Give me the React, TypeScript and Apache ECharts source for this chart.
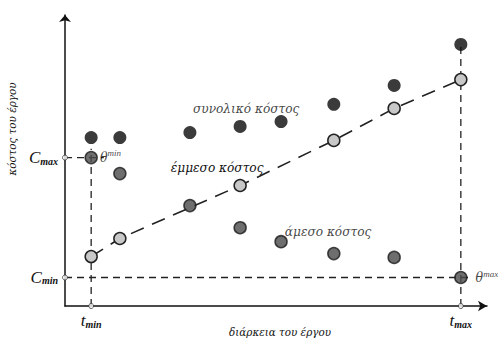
import React, { useEffect, useRef } from "react";
import * as echarts from "echarts";

// Project duration (x) of each observed solution, on a 0–100 scale
const durations = [6.2, 13.0, 29.6, 41.5, 51.2, 63.7, 78.0, 93.8];
// Total cost for each duration
const totalCost = [57.9, 57.9, 59.6, 61.7, 63.4, 69.3, 75.8, 89.9];
// Direct cost for each duration
const directCost = [51.0, 45.5, 34.5, 26.9, 22.1, 18.0, 16.7, 9.8];
// Indirect cost (subset of durations)
const indirectDurations = [6.2, 13.0, 41.5, 63.7, 78.0, 93.8];
const indirectCost = [17.0, 23.2, 41.4, 56.9, 67.9, 77.8];

const seriesNames = ["συνολικό κόστος", "έμμεσο κόστος", "άμεσο κόστος"];
const xAxisName = "διάρκεια του έργου";
const yAxisName = "κόστος του έργου";

const SERIF = "Liberation Serif, DejaVu Serif, serif";
const GREEK = "DejaVu Serif Condensed, DejaVu Serif, Liberation Serif, serif";
const INK = "#111";

export default function App() {
  const ref = useRef<HTMLDivElement>(null);

  useEffect(() => {
    if (!ref.current) return;
    const chart = echarts.init(ref.current, undefined, { renderer: "svg" });

    const tMin = durations[0];
    const tMax = durations[durations.length - 1];
    const cMax = directCost[0];
    const cMin = directCost[directCost.length - 1];
    const totMax = totalCost[totalCost.length - 1];

    const subRich = {
      b: { fontFamily: SERIF, fontStyle: "italic", fontSize: 17, color: INK },
      s: {
        fontFamily: SERIF,
        fontStyle: "italic",
        fontWeight: "bold",
        fontSize: 10,
        color: INK,
        padding: [7, 0, 0, 0],
      },
      sup: {
        fontFamily: SERIF,
        fontStyle: "italic",
        fontSize: 9,
        color: INK,
        padding: [0, 0, 7, 0],
      },
      th: { fontFamily: GREEK, fontStyle: "italic", fontSize: 14, color: INK },
    };

    const labelStyle = {
      fontFamily: GREEK,
      fontStyle: "italic" as const,
      fontSize: 13.5,
      color: INK,
    };

    const guide = (data: number[][]) => ({
      type: "line",
      data,
      symbol: "none",
      silent: true,
      z: 1,
      lineStyle: { color: "#222", width: 1.3, type: [7, 5] },
    });

    const totalData = durations.map((x, i) => {
      const item: any = { value: [x, totalCost[i]] };
      if (i === 3) {
        item.label = {
          show: true,
          formatter: seriesNames[0],
          position: "top",
          offset: [6, 0],
          ...labelStyle,
        };
      }
      return item;
    });

    const indirectData = indirectDurations.map((x, i) => {
      const item: any = { value: [x, indirectCost[i]] };
      if (i === 2) {
        item.label = {
          show: true,
          formatter: seriesNames[1],
          position: "top",
          offset: [-23, 0],
          ...labelStyle,
        };
      }
      return item;
    });

    const directData = directCost.map((y, i) => {
      const item: any = { value: [durations[i], y] };
      if (i === 4) {
        item.label = {
          show: true,
          formatter: seriesNames[2],
          position: "right",
          offset: [-8, -11],
          ...labelStyle,
        };
      }
      if (i === 0 || i === directCost.length - 1) {
        item.label = {
          show: true,
          formatter: i === 0 ? "{th|θ}{sup|min}" : "{th|θ}{sup|max}",
          position: "right",
          offset: i === 0 ? [-3, -1] : [3, 0],
          rich: subRich,
        };
      }
      return item;
    });

    chart.setOption({
      animation: false,
      grid: {
        left: 65,
        right: 11,
        top: 15,
        bottom: 34,
        containLabel: false,
        outerBoundsMode: "none",
      },
      xAxis: {
        type: "value",
        min: 0,
        max: 100,
        name: xAxisName,
        nameLocation: "middle",
        nameGap: 20,
        nameMoveOverlap: false,
        nameTextStyle: {
          fontFamily: GREEK,
          fontStyle: "italic",
          fontSize: 11.5,
          color: INK,
          padding: [0, 0, 0, 8],
        },
        splitLine: { show: false },
        axisTick: { show: false },
        axisLine: {
          lineStyle: { color: INK, width: 1.5 },
          symbol: ["none", "arrow"],
          symbolSize: [8, 9],
        },
        axisLabel: {
          customValues: [tMin, tMax],
          margin: 6,
          formatter: (v: number) => (v === tMin ? "{b|t}{s|min}" : "{b|t}{s|max}"),
          rich: subRich,
        },
      },
      yAxis: {
        type: "value",
        min: 0,
        max: 100,
        splitLine: { show: false },
        axisTick: { show: false },
        axisLine: {
          lineStyle: { color: INK, width: 1.5 },
          symbol: ["none", "arrow"],
          symbolSize: [9, 7],
        },
        axisLabel: {
          customValues: [cMin, cMax],
          margin: 7,
          formatter: (v: number) => (v === cMax ? "{b|C}{s|max}" : "{b|C}{s|min}"),
          rich: subRich,
        },
      },
      graphic: [
        {
          type: "text",
          x: 12,
          y: 129,
          rotation: Math.PI / 2,
          style: {
            text: yAxisName,
            fontFamily: GREEK,
            fontStyle: "italic",
            fontSize: 11.5,
            fill: INK,
            align: "center",
            verticalAlign: "middle",
          },
        },
      ],
      series: [
        guide([
          [tMin, 0],
          [tMin, cMax + 3],
        ]),
        guide([
          [0, cMax],
          [tMin + 3, cMax],
        ]),
        guide([
          [tMax, 0],
          [tMax, totMax],
        ]),
        guide([
          [0, cMin],
          [tMax + 2, cMin],
        ]),
        {
          name: seriesNames[1],
          type: "line",
          data: indirectData,
          symbol: "circle",
          symbolSize: 12,
          z: 3,
          lineStyle: { color: "#222", width: 1.6, type: [14, 9] },
          itemStyle: { color: "#c8c8c8", borderColor: "#222", borderWidth: 1.5 },
        },
        {
          name: seriesNames[0],
          type: "scatter",
          data: totalData,
          symbolSize: 13,
          z: 4,
          itemStyle: { color: "#0a0a0a" },
        },
        {
          name: seriesNames[2],
          type: "scatter",
          data: directData,
          symbolSize: 12,
          z: 4,
          itemStyle: { color: "#4a4a4a", borderColor: "#1a1a1a", borderWidth: 1.5 },
        },
        {
          type: "scatter",
          data: [
            [0, cMax],
            [0, cMin],
            [tMin, 0],
            [tMax, 0],
          ],
          clip: false,
          symbolSize: 5,
          silent: true,
          z: 5,
          itemStyle: { color: "#fff", borderColor: "#333", borderWidth: 1 },
        },
      ],
    });

    return () => chart.dispose();
  }, []);

  return (
    <div
      ref={ref}
      style={{ position: "absolute", left: 0, top: 0, width: 498, height: 340, background: "#fff" }}
    />
  );
}
